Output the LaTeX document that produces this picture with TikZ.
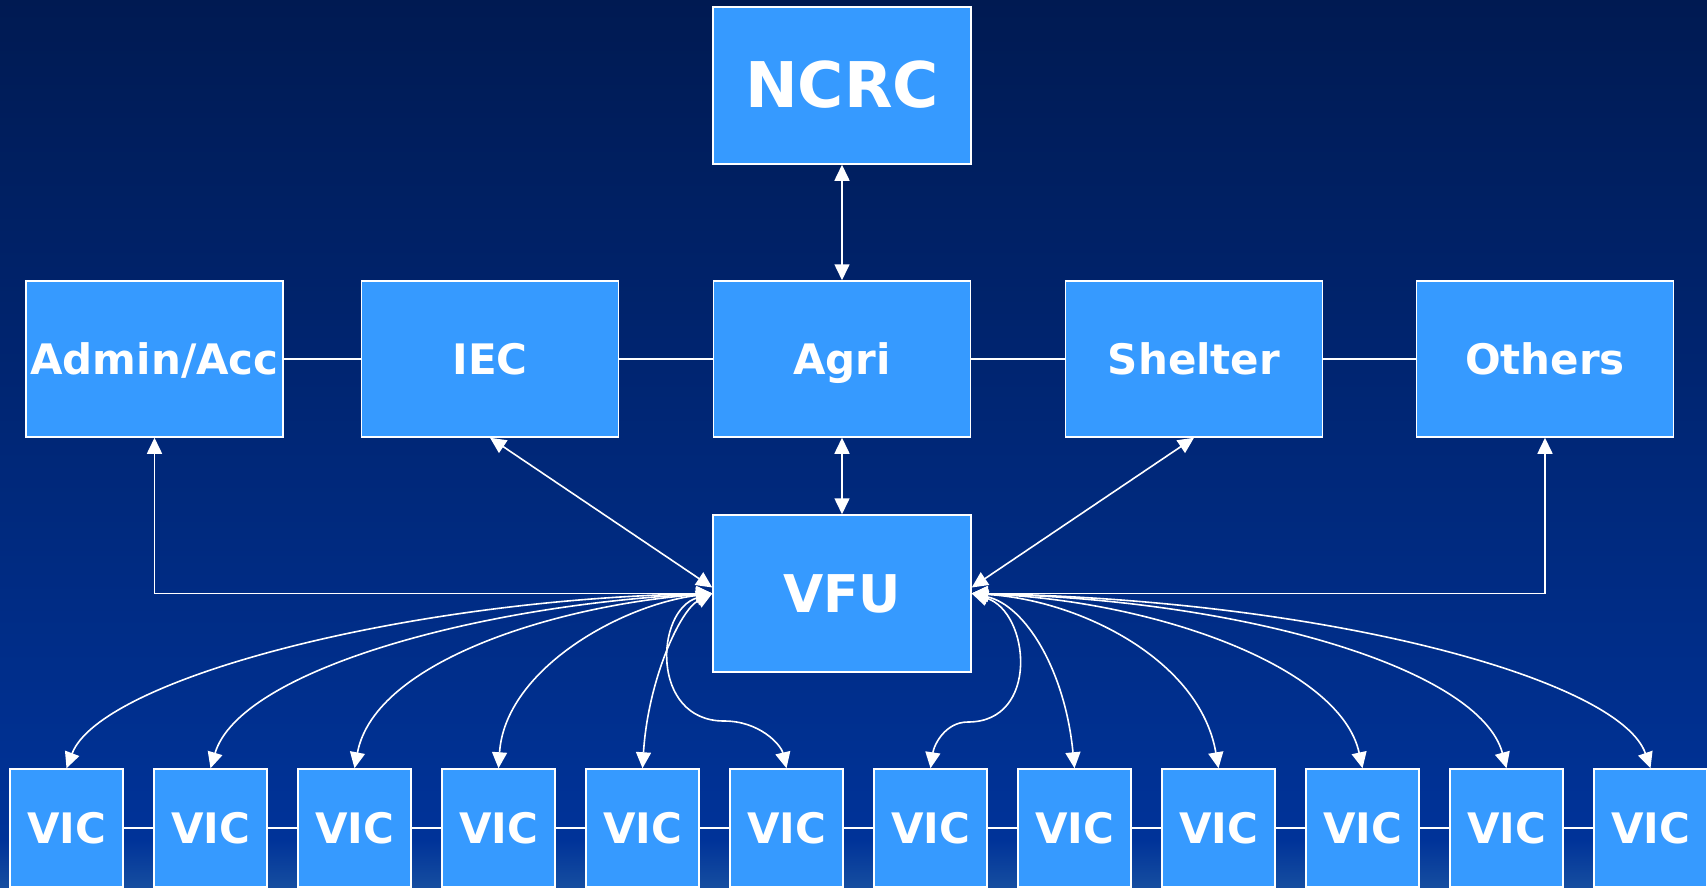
\documentclass[tikz,border=0pt]{standalone}
\usepackage{fontspec}
\setmainfont{DejaVu Sans}
\usetikzlibrary{arrows.meta}
\definecolor{bgtop}{RGB}{0,26,82}
\definecolor{bgmid}{RGB}{0,51,153}
\definecolor{bgbot}{RGB}{22,78,160}
\definecolor{boxfill}{RGB}{54,154,255}
\tikzset{
  box/.style={draw=white, line width=1.5pt, fill=boxfill, text=white, inner sep=0pt,
    font=\bfseries\fontsize{42}{50}\selectfont, text height=30pt, text depth=0pt},
  bigbox/.style={box, minimum width=258pt, minimum height=157pt},
  midbox/.style={box, minimum width=257pt, minimum height=156pt},
  vicbox/.style={box, minimum width=113pt, minimum height=118pt},
  arr/.style={draw=white, line width=1.6pt, {Triangle[length=16pt,width=15pt]}-{Triangle[length=16pt,width=15pt]}},
  link/.style={draw=white, line width=1.6pt}
}
\begin{document}
\begin{tikzpicture}[x=1pt,y=-1pt]
\useasboundingbox (0,0) rectangle (1707,888);
\shade[top color=bgtop, bottom color=bgmid] (0,0) rectangle (1707,841);
\shade[top color=bgmid, bottom color=bgbot] (0,840) rectangle (1707,888);

\node[bigbox, font=\bfseries\fontsize{63}{70}\selectfont, text height=45pt] (ncrc) at (842,85.5) {NCRC};
\node[midbox] (admin) at (154.5,359) {Admin/Acc};
\node[midbox] (iec) at (490,359) {IEC};
\node[midbox] (agri) at (842,359) {Agri};
\node[midbox] (shelter) at (1194,359) {Shelter};
\node[midbox] (others) at (1545,359) {Others};
\node[bigbox, font=\bfseries\fontsize{52}{60}\selectfont, text height=37pt] (vfu) at (842,593.5) {VFU};

\foreach \i in {1,...,12} {
  \node[vicbox] (v\i) at ({66.5+144*(\i-1)},828) {VIC};
}
\foreach \a/\b in {1/2,2/3,3/4,4/5,5/6,6/7,7/8,8/9,9/10,10/11,11/12} {
  \draw[link] (v\a.east) -- (v\b.west);
}
\draw[link] (admin.east) -- (iec.west);
\draw[link] (iec.east) -- (agri.west);
\draw[link] (agri.east) -- (shelter.west);
\draw[link] (shelter.east) -- (others.west);

\draw[arr] (ncrc.south) -- (agri.north);
\draw[arr] (agri.south) -- (vfu.north);
\draw[arr] (vfu.west) -| (admin.south);
\draw[arr] (vfu.east) -| (others.south);
\draw[arr] (iec.south) -- ([yshift=6pt]vfu.west);
\draw[arr] (shelter.south) -- ([yshift=6pt]vfu.east);

% left curves
\draw[arr] (vfu.west) .. controls (400,600) and (100,680) .. (v1.north);
\draw[arr] (vfu.west) .. controls (480,605) and (240,670) .. (v2.north);
\draw[arr] (vfu.west) .. controls (560,605) and (375,660) .. (v3.north);
\draw[arr] (vfu.west) .. controls (620,605) and (505,670) .. (v4.north);
\draw[arr] (vfu.west) .. controls (680,610) and (648,680) .. (v5.north);
\coordinate (s6) at (724,721);
\draw[arr] (vfu.west) .. controls (655,610) and (650,721) .. (s6) .. controls (760,721) and (781,745) .. (v6.north);
% right curves
\coordinate (s7) at (968,722);
\draw[arr] (vfu.east) .. controls (1030,612) and (1040,722) .. (s7) .. controls (945,722) and (934,745) .. (v7.north);
\draw[arr] (vfu.east) .. controls (1025,605) and (1065,670) .. (v8.north);
\draw[arr] (vfu.east) .. controls (1080,600) and (1200,660) .. (v9.north);
\draw[arr] (vfu.east) .. controls (1150,600) and (1340,665) .. (v10.north);
\draw[arr] (vfu.east) .. controls (1250,600) and (1480,670) .. (v11.north);
\draw[arr] (vfu.east) .. controls (1330,600) and (1620,680) .. (v12.north);
\end{tikzpicture}
\end{document}
